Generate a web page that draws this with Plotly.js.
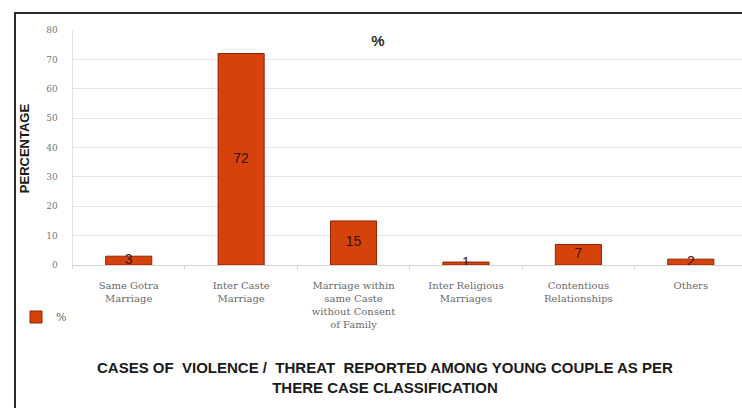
<!DOCTYPE html>
<html><head><meta charset="utf-8">
<script src="https://cdn.plot.ly/plotly-3.0.1.min.js"></script>
<style>
html,body{margin:0;padding:0;width:742px;height:408px;overflow:hidden;background:#fff;}
#wrap{position:relative;width:742px;height:408px;overflow:hidden;}
#chart{position:absolute;left:0;top:0;width:760px;height:408px;}
#frame{position:absolute;left:14px;top:12px;width:760px;height:420px;border:2px solid #2a2a2a;box-sizing:border-box;pointer-events:none;}
</style></head>
<body>
<div id="wrap"><div id="chart"></div><div id="frame"></div></div>
<script>
const categories = ["Same Gotra<br>Marriage", "Inter Caste<br>Marriage", "Marriage within<br>same Caste<br>without Consent<br>of Family", "Inter Religious<br>Marriages", "Contentious<br>Relationships", "Others"];
const percentValues = [3, 72, 15, 1, 7, 2];
const seriesName = "%";
const yTickValues = [0, 10, 20, 30, 40, 50, 60, 70, 80];
const chartTitle = "%";
const xTitle = "CASES OF  VIOLENCE /  THREAT  REPORTED AMONG YOUNG COUPLE AS PER<br>THERE CASE CLASSIFICATION";
const yTitle = "PERCENTAGE";

const labelY = percentValues.map(v => v / 2);

const traces = [
  {
    type: "bar", x: categories, y: percentValues, name: seriesName,
    width: 0.41,
    marker: {color: "#d6420c", line: {color: "#8e2405", width: 1}},
    hoverinfo: "x+y"
  },
  {
    type: "scatter", mode: "text", x: categories, y: labelY,
    text: percentValues.map(String), showlegend: false, hoverinfo: "skip",
    textfont: {family: "Liberation Sans, Arial, sans-serif", size: 14, color: "#3a1505"}
  }
];

const layout = {
  width: 760, height: 408,
  margin: {l: 70.5, r: 12.5, t: 30, b: 143},
  paper_bgcolor: "rgba(0,0,0,0)", plot_bgcolor: "#fff",
  title: {text: "<b>" + chartTitle + "</b>", x: 378/760, xanchor: "center", y: 1 - 41/408, yanchor: "middle",
          font: {family: "Liberation Sans, Arial, sans-serif", size: 15, color: "#2a2a2a"}},
  showlegend: true,
  legend: {xref: "container", yref: "container", x: 16/760, y: 1 - 317/408, yanchor: "middle", xanchor: "left",
           font: {family: "DejaVu Serif, serif", size: 11, color: "#666"}, bgcolor: "rgba(0,0,0,0)"},
  xaxis: {
    type: "category", range: [-0.5, 5.5],
    showline: true, linecolor: "#d4d4d4", linewidth: 1,
    ticks: "outside", tickson: "boundaries", ticklen: 3, tickcolor: "#d4d4d4",
    ticklabelstandoff: 11,
    tickfont: {family: "DejaVu Serif, serif", size: 10, color: "#6a6a6a"},
    showgrid: false, fixedrange: true
  },
  yaxis: {
    range: [0, 80], tickvals: yTickValues, ticktext: yTickValues.map(String),
    showgrid: true, gridcolor: "#e4e4e4", gridwidth: 1,
    zeroline: true, zerolinecolor: "#d4d4d4",
    showline: true, linecolor: "#e2e2e2",
    ticks: "", ticklabelstandoff: 12,
    tickfont: {family: "DejaVu Serif, serif", size: 9, color: "#777"},
    fixedrange: true
  },
  annotations: [
    {text: "<b>" + xTitle + "</b>", xref: "paper", yref: "paper",
     x: (384.5 - 70.5) / 677, y: (265 - 377.5) / 235, xanchor: "center", yanchor: "middle",
     showarrow: false, align: "center",
     font: {family: "Liberation Sans, Arial, sans-serif", size: 15, color: "#1a1a1a"}},
    {text: "<b>" + yTitle + "</b>", xref: "paper", yref: "paper", textangle: -90,
     x: (22 - 70.5) / 677, y: (265 - 148) / 235, xanchor: "center", yanchor: "middle",
     showarrow: false,
     font: {family: "Liberation Sans, Arial, sans-serif", size: 13, color: "#1a1a1a"}}
  ],
  bargap: 0.59
};

Plotly.newPlot("chart", traces, layout, {displayModeBar: false, staticPlot: true});
</script>
</body></html>
